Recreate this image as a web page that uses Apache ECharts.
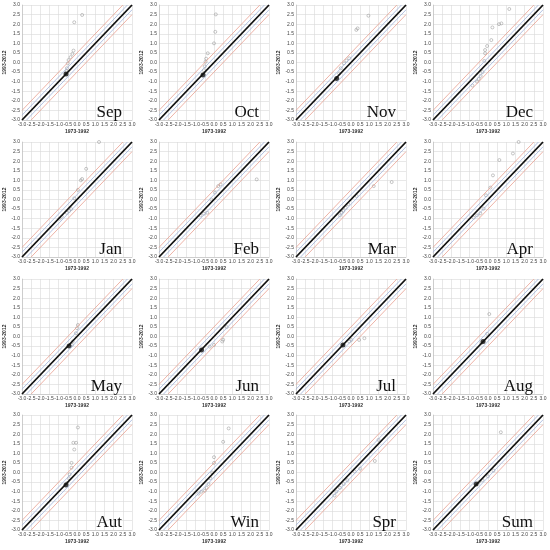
<!DOCTYPE html>
<html>
<head>
<meta charset="utf-8">
<script src="https://cdn.jsdelivr.net/npm/echarts@6/dist/echarts.min.js"></script>
<style>
  html, body { margin: 0; padding: 0; background: #fff; }
  #main { width: 550px; height: 550px; }
</style>
</head>
<body>
<div id="main"></div>
<script>
// panel names, in reading order
const months = ['Sep', 'Oct', 'Nov', 'Dec', 'Jan', 'Feb', 'Mar', 'Apr',
                'May', 'Jun', 'Jul', 'Aug', 'Aut', 'Win', 'Spr', 'Sum'];

// anomaly pairs [1973-1992, 1993-2012]
const sepPts = [[0.28, 2.48], [-0.15, 2.1], [-0.19, 0.62], [-0.25, 0.45], [-0.35, 0.28], [-0.46, 0.13], [-0.5, -0.05], [-0.55, -0.3], [-0.58, -0.45]];
const octPts = [[0.1, 2.51], [0.07, 1.6], [0.0, 1.0], [-0.34, 0.48], [-0.43, 0.2], [-0.46, 0.04], [-0.5, -0.2], [-0.55, -0.4]];
const novPts = [[0.95, 2.44], [0.29, 1.7], [0.36, 1.78], [-0.1, 0.22], [-0.25, 0.1], [-0.38, -0.04], [-0.56, -0.3], [-0.65, -0.57]];
const decPts = [[1.16, 2.79], [0.73, 2.04], [0.6, 2.0], [0.24, 1.83], [0.18, 1.17], [-0.05, 0.86], [-0.16, 0.65], [-0.16, 0.48], [-0.2, 0.08], [-0.3, -0.5], [-0.4, -0.7], [-0.5, -0.86], [-0.6, -1.0], [-0.85, -1.2]];
const janPts = [[1.2, 3.0], [0.5, 1.6], [0.28, 1.07], [0.21, 1.0], [0.05, 0.5], [-0.15, 0.06], [-0.32, -0.5], [-0.43, -0.6], [-0.55, -0.7], [-0.83, -0.9], [-0.95, -1.0]];
const febPts = [[2.33, 1.05], [0.36, 0.79], [0.23, 0.7], [0.05, 0.36], [-0.15, 0.0], [-0.37, -0.69], [-0.55, -0.74], [-0.74, -0.83]];
const marPts = [[2.22, 0.91], [1.24, 0.7], [0.31, 0.18], [-0.15, -0.25], [-0.29, -0.43], [-0.42, -0.6], [-0.5, -0.69], [-0.6, -0.83]];
const aprPts = [[1.67, 3.0], [1.36, 2.4], [0.62, 2.06], [0.27, 1.26], [0.13, 0.62], [-0.11, 0.22], [-0.24, -0.48], [-0.42, -0.72], [-0.6, -0.83], [-0.78, -0.95]];
const mayPts = [[0.05, 0.6], [0.0, 0.43], [-0.06, 0.17], [-0.23, -0.26], [-0.28, -0.44]];
const junPts = [[0.69, 0.49], [0.5, -0.17], [0.45, -0.26], [0.0, -0.44], [-0.23, -0.53]];
const julPts = [[0.73, -0.09], [0.44, -0.18], [0.02, -0.18], [-0.1, -0.26]];
const augPts = [[0.07, 1.17], [-0.05, 0.14], [-0.36, -0.35]];
const autPts = [[0.05, 2.35], [-0.05, 1.55], [-0.2, 1.55], [-0.15, 1.2], [-0.3, 0.5], [-0.3, 0.25], [-0.4, -0.1], [-0.45, -0.3], [-0.55, -0.55]];
const winPts = [[0.8, 2.3], [0.5, 1.6], [0.0, 0.8], [0.0, 0.5], [-0.1, 0.0], [-0.2, -0.3], [-0.3, -0.6], [-0.4, -0.8], [-0.5, -0.95], [-0.7, -1.0], [-0.85, -1.1]];
const sprPts = [[1.5, 1.7], [1.3, 0.6], [0.5, 0.2], [0.2, 0.05], [-0.2, -0.4], [-0.4, -0.6], [-0.6, -0.8], [-0.8, -1.0], [-0.9, -1.2]];
const sumPts = [[0.7, 2.1], [0.3, 0.1], [0.0, -0.2], [-0.3, -0.4], [-0.5, -0.5]];
const points = [sepPts, octPts, novPts, decPts, janPts, febPts, marPts, aprPts,
                mayPts, junPts, julPts, augPts, autPts, winPts, sprPts, sumPts];

// the black dot (period mean) per panel, null when none
const meanPts = [[-0.6, -0.6], [-0.6, -0.65], [-0.78, -0.83], null, null, null, null, null,
                 [-0.43, -0.49], [-0.68, -0.7], [-0.44, -0.44], [-0.27, -0.26],
                 [-0.6, -0.65], null, null, [-0.65, -0.6]];

// reference lines: y = x + offset
const blueOffsets = [-0.25, 0.25];
const redOffsets = [-0.5, 0.5];
const axisMin = -3, axisMax = 3, axisStep = 0.5;

let chartDom = document.getElementById('main');
let myChart = echarts.init(chartDom);

const colLeft = [22, 159, 296, 433];
const rowTop = [5, 142, 279, 415];
const pw = 110, ph = 115;

function diag(off) {
    // clip y = x + off into the square axis range
    let x0 = Math.max(axisMin, axisMin - off);
    let x1 = Math.min(axisMax, axisMax - off);
    return [[x0, x0 + off], [x1, x1 + off]];
}

let grid = [], xAxis = [], yAxis = [], series = [], title = [];
for (let i = 0; i < months.length; i++) {
    let c = i % 4, r = Math.floor(i / 4);
    grid.push({ left: colLeft[c], top: rowTop[r], width: pw, height: ph });
    xAxis.push({
        gridIndex: i, type: 'value', min: axisMin, max: axisMax, interval: axisStep,
        name: '1973-1992', nameLocation: 'middle', nameGap: 9,
        nameTextStyle: { fontSize: 5, fontWeight: 'bold', color: '#333', fontFamily: 'Liberation Sans' },
        axisLine: { show: true, onZero: false, lineStyle: { color: '#bbb', width: 0.6 } },
        axisTick: { show: false },
        axisLabel: { fontSize: 5, color: '#444', margin: 2, fontFamily: 'Liberation Sans',
                     formatter: v => v.toFixed(1) },
        splitLine: { show: true, lineStyle: { color: '#d8d8d8', width: 0.6 } }
    });
    yAxis.push({
        gridIndex: i, type: 'value', min: axisMin, max: axisMax, interval: axisStep,
        name: '1993-2012', nameLocation: 'middle', nameGap: 13, nameRotate: 90,
        nameTextStyle: { fontSize: 5, fontWeight: 'bold', color: '#333', fontFamily: 'Liberation Sans' },
        axisLine: { show: true, onZero: false, lineStyle: { color: '#bbb', width: 0.6 } },
        axisTick: { show: false },
        axisLabel: { fontSize: 5, color: '#444', margin: 2, fontFamily: 'Liberation Sans',
                     formatter: v => v.toFixed(1) },
        splitLine: { show: true, lineStyle: { color: '#d8d8d8', width: 0.6 } }
    });
    redOffsets.forEach(o => series.push({
        type: 'line', xAxisIndex: i, yAxisIndex: i, data: diag(o), symbol: 'none',
        silent: true, lineStyle: { color: '#e8a090', width: 0.8 }
    }));
    blueOffsets.forEach(o => series.push({
        type: 'line', xAxisIndex: i, yAxisIndex: i, data: diag(o), symbol: 'none',
        silent: true, lineStyle: { color: '#9fb3dc', width: 0.8 }
    }));
    series.push({
        type: 'line', xAxisIndex: i, yAxisIndex: i, data: diag(0), symbol: 'none',
        silent: true, lineStyle: { color: '#111', width: 1.8 }
    });
    series.push({
        type: 'scatter', xAxisIndex: i, yAxisIndex: i, data: points[i],
        symbol: 'circle', symbolSize: 3,
        itemStyle: { color: 'rgba(255,255,255,0)', borderColor: '#999', borderWidth: 0.7 }
    });
    if (meanPts[i]) {
        series.push({
            type: 'scatter', xAxisIndex: i, yAxisIndex: i, data: [meanPts[i]],
            symbol: 'circle', symbolSize: 5, itemStyle: { color: '#111' }
        });
    }
    title.push({
        text: months[i], right: 550 - (colLeft[c] + pw - 5), top: rowTop[r] + ph - 21,
        textStyle: { fontFamily: 'Liberation Serif', fontWeight: 'normal', fontSize: 17, color: '#111' }
    });
}

let option = {
    backgroundColor: '#fff',
    animation: false,
    title: title,
    grid: grid,
    xAxis: xAxis,
    yAxis: yAxis,
    series: series
};

option && myChart.setOption(option);
</script>
</body>
</html>
